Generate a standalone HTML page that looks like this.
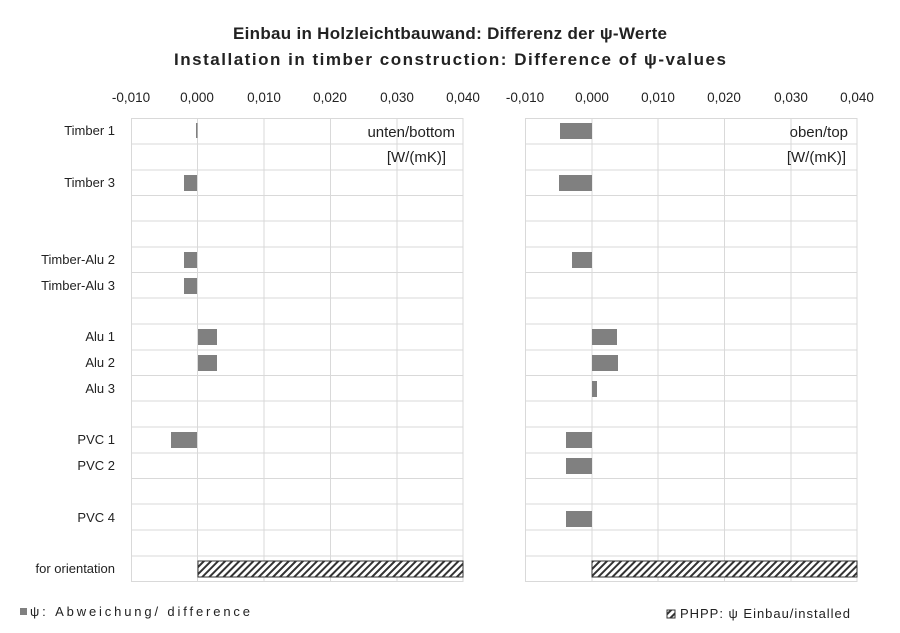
<!DOCTYPE html>
<html><head><meta charset="utf-8"><style>body{margin:0;background:#fff}svg{display:block}text{font-family:"Liberation Sans",sans-serif;fill:#222}</style></head><body>
<svg width="900" height="633" viewBox="0 0 900 633">
<defs><pattern id="h" patternUnits="userSpaceOnUse" width="5" height="5" patternTransform="rotate(45)"><rect width="5" height="5" fill="#fff"/><rect width="2" height="5" fill="#333"/></pattern></defs>
<text x="450" y="39" text-anchor="middle" font-size="17" font-weight="bold" textLength="434">Einbau in Holzleichtbauwand: Differenz der  ψ-Werte</text>
<text x="450" y="65" text-anchor="middle" font-size="17" font-weight="bold" textLength="552">Installation in timber construction:  Difference of  ψ-values</text>
<g font-size="13.5" text-anchor="middle">
<text x="131" y="102">-0,010</text><text x="197" y="102">0,000</text><text x="264" y="102">0,010</text><text x="330" y="102">0,020</text><text x="397" y="102">0,030</text><text x="463" y="102">0,040</text>
<text x="525" y="102">-0,010</text><text x="592" y="102">0,000</text><text x="658" y="102">0,010</text><text x="724" y="102">0,020</text><text x="791" y="102">0,030</text><text x="857" y="102">0,040</text>
</g>
<g stroke="#d9d9d9" stroke-width="1" fill="none">
<path d="M131.5 118V582M197.5 118V582M264 118V582M330.5 118V582M397 118V582M463 118V582"/>
<path d="M525.5 118V582M592 118V582M658 118V582M724.5 118V582M791 118V582M857 118V582"/>
<path d="M131 118.5H463M131 144H463M131 170H463M131 195.5H463M131 221H463M131 247H463M131 272.5H463M131 298H463M131 324H463M131 350H463M131 375.5H463M131 401H463M131 427H463M131 453H463M131 478.5H463M131 504H463M131 530H463M131 556H463M131 581.5H463"/>
<path transform="translate(394.5 0)" d="M131 118.5H463M131 144H463M131 170H463M131 195.5H463M131 221H463M131 247H463M131 272.5H463M131 298H463M131 324H463M131 350H463M131 375.5H463M131 401H463M131 427H463M131 453H463M131 478.5H463M131 504H463M131 530H463M131 556H463M131 581.5H463"/>
</g>
<g font-size="13" text-anchor="end">
<text x="115" y="135">Timber 1</text><text x="115" y="187">Timber 3</text><text x="115" y="264">Timber-Alu 2</text><text x="115" y="290">Timber-Alu 3</text>
<text x="115" y="341">Alu 1</text><text x="115" y="367">Alu 2</text><text x="115" y="393">Alu 3</text><text x="115" y="444">PVC 1</text><text x="115" y="470">PVC 2</text><text x="115" y="522">PVC 4</text><text x="115" y="573">for orientation</text>
</g>
<g font-size="15" text-anchor="end"><text x="455" y="137">unten/bottom</text><text x="446" y="162">[W/(mK)]</text><text x="848" y="137">oben/top</text><text x="846" y="162">[W/(mK)]</text></g>
<g fill="#808080">
<rect x="196" y="123" width="1.5" height="15"/>
<rect x="184" y="175" width="13" height="16"/><rect x="184" y="252" width="13" height="16"/><rect x="184" y="278" width="13" height="16"/>
<rect x="198" y="329" width="19" height="16"/><rect x="198" y="355" width="19" height="16"/><rect x="171" y="432" width="26" height="16"/>
<rect x="560" y="123" width="32" height="16"/><rect x="559" y="175" width="33" height="16"/><rect x="572" y="252" width="20" height="16"/>
<rect x="592" y="329" width="25" height="16"/><rect x="592" y="355" width="26" height="16"/><rect x="592" y="381" width="5" height="16"/>
<rect x="566" y="432" width="26" height="16"/><rect x="566" y="458" width="26" height="16"/><rect x="566" y="511" width="26" height="16"/>
</g>
<rect x="198" y="561" width="265" height="16" fill="url(#h)" stroke="#333"/>
<rect x="592" y="561" width="265" height="16" fill="url(#h)" stroke="#333"/>
<rect x="20" y="608" width="7" height="7" fill="#808080"/><text x="30" y="616" font-size="13" textLength="220">ψ: Abweichung/  difference</text>
<rect x="667" y="610" width="8" height="8" fill="url(#h)" stroke="#333"/><text x="680" y="618" font-size="13" textLength="170">PHPP:  ψ  Einbau/installed</text>
</svg>
</body></html>
